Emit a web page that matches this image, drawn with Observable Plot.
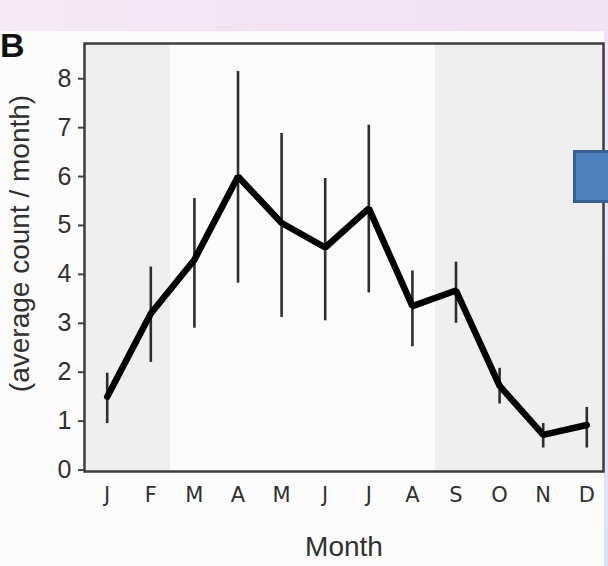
<!DOCTYPE html>
<html>
<head>
<meta charset="utf-8">
<script src="https://cdn.jsdelivr.net/npm/d3@7"></script>
<script src="https://cdn.jsdelivr.net/npm/@observablehq/plot@0.6"></script>
<style>
  html, body { margin: 0; padding: 0; }
  body { width: 608px; height: 566px; overflow: hidden; position: relative; background: #fdfcfd; }
  #topband { position: absolute; left: 0; top: 0; width: 608px; height: 31px;
    background: linear-gradient(90deg, #f6eaf6, #f4e4f5 50%, #f1e2f4); }
  #rightband { position: absolute; left: 604px; top: 0; width: 4px; height: 566px;
    background: linear-gradient(180deg, #f2e3f3, #e6e3f6 50%, #dde2f5); }
  #chart { position: absolute; left: 0; top: 0; }
  #panelB { position: absolute; left: 0px; top: 26px; font: bold 34px "Liberation Sans", Arial, sans-serif; color: #111; line-height: 38px; }
  #box { position: absolute; left: 573px; top: 150px; width: 42px; height: 53px; background: #4f81bd;
    border: 3px solid #3a6090; box-sizing: border-box; }
</style>
</head>
<body>
<div id="topband"></div>
<div id="rightband"></div>
<div id="chart"></div>
<div id="panelB">B</div>
<div id="box"></div>
<script>
// ---- data ----
const months = ["J", "F", "M", "A", "M", "J", "J", "A", "S", "O", "N", "D"];
const meanCount = [1.5, 3.2, 4.3, 6.0, 5.05, 4.55, 5.35, 3.35, 3.67, 1.72, 0.72, 0.92];
const lowerErr  = [0.95, 2.2, 2.9, 3.82, 3.12, 3.05, 3.62, 2.52, 3.0, 1.35, 0.45, 0.45];
const upperErr  = [1.98, 4.15, 5.55, 8.15, 6.88, 5.96, 7.05, 4.07, 4.25, 2.08, 0.95, 1.28];
const yTicks = [0, 1, 2, 3, 4, 5, 6, 7, 8];
const shadedStart = [0.479, 8.53];
const shadedEnd   = [2.45, 12.383];
const yLabel = "(average count / month)";
const xLabel = "Month";

const data = months.map((m, i) => ({ idx: i + 1, month: m, mean: meanCount[i], lo: lowerErr[i], hi: upperErr[i] }));
const shade = shadedStart.map((s, i) => ({ x1: s, x2: shadedEnd[i] }));
const monthIdx = data.map(d => d.idx);

const textColor = "#303030";
const sans = "'Liberation Sans', Arial, Helvetica, sans-serif";

const chart = Plot.plot({
  width: 608,
  height: 566,
  marginLeft: 84,
  marginRight: 5,
  marginTop: 43,
  marginBottom: 95,
  style: { background: "transparent", fontFamily: sans, color: textColor, overflow: "visible" },
  x: { domain: [0.479, 12.383] },
  y: { domain: [-0.03, 8.72] },
  marks: [
    Plot.rect(shade, { x1: "x1", x2: "x2", fill: "#efefef" }),
    Plot.ruleX(data, { x: "idx", y1: "lo", y2: "hi", stroke: "#2e2e2e", strokeWidth: 2.6 }),
    Plot.lineY(data, { x: "idx", y: "mean", stroke: "#000", strokeWidth: 6.5, strokeLinejoin: "miter", strokeLinecap: "round" }),
    Plot.frame({ stroke: "#3d3d3d", strokeWidth: 2.5 }),
    Plot.axisY({ ticks: yTicks, tickSize: 6, tickPadding: 7, fontSize: 25, label: null, stroke: "#444", strokeWidth: 2, fill: textColor }),
    Plot.axisX({ ticks: monthIdx, tickFormat: i => months[i - 1], tickSize: 0, tickPadding: 16,
      fontSize: 21, fontFamily: "'DejaVu Sans', Verdana, sans-serif", label: null, fill: textColor }),
    Plot.text([yLabel], { text: d => d, frameAnchor: "left", textAnchor: "middle", rotate: -90, dx: -64, dy: -14,
      fontSize: 28, fontFamily: sans, fill: textColor }),
    Plot.text([xLabel], { text: d => d, frameAnchor: "bottom", dy: 84,
      fontSize: 28, fontFamily: sans, fill: textColor })
  ]
});
document.getElementById("chart").appendChild(chart);
</script>
</body>
</html>
